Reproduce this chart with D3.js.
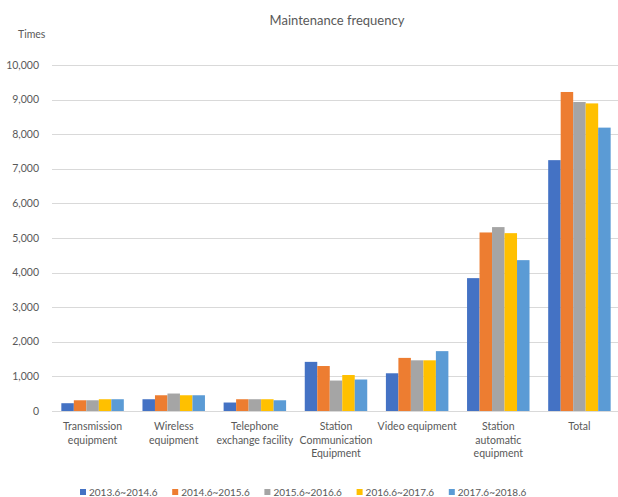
<!DOCTYPE html>
<html>
<head>
  <script src="https://d3js.org/d3.v7.min.js"></script>
  <style>
    body {
  margin: 0;
  background-color: #ffffff;
}

svg {
  display: block;
  font-family: 'Lato', 'Liberation Sans', sans-serif;
}

.grid line {
  stroke: #d9d9d9;
  stroke-width: 1px;
}

.label {
  fill: #595959;
}
  </style>
</head>
<body>

<script>
// Categories (line breaks follow the wrapping in the picture)
const categories = [
  "Transmission\nequipment",
  "Wireless\nequipment",
  "Telephone\nexchange facility",
  "Station\nCommunication\nEquipment",
  "Video equipment",
  "Station\nautomatic\nequipment",
  "Total"
];

const seriesNames = ["2013.6~2014.6", "2014.6~2015.6", "2015.6~2016.6", "2016.6~2017.6", "2017.6~2018.6"];

// One array per period, in category order
const s2013 = [225, 340, 245, 1420, 1090, 3840, 7250];
const s2014 = [310, 455, 340, 1300, 1535, 5160, 9220];
const s2015 = [310, 505, 340, 880, 1465, 5315, 8930];
const s2016 = [340, 455, 340, 1040, 1465, 5140, 8890];
const s2017 = [340, 455, 310, 910, 1730, 4360, 8190];

const yTicks = [0, 1000, 2000, 3000, 4000, 5000, 6000, 7000, 8000, 9000, 10000];

const colors = ["#4472C4", "#ED7D31", "#A5A5A5", "#FFC000", "#5B9BD5"];

const series = [s2013, s2014, s2015, s2016, s2017];

const width = 618;
const height = 497;
const margin = { top: 65, left: 52, right: -2, bottom: 86 };

const svg = d3.select("body")
  .append("svg")
  .attr("width", width)
  .attr("height", height);

const x = d3.scaleBand()
  .domain(d3.range(categories.length))
  .range([margin.left, width - margin.right])
  .paddingInner(0.23)
  .paddingOuter(0.115);

const xInner = d3.scaleBand()
  .domain(d3.range(series.length))
  .range([0, x.bandwidth()]);

const y = d3.scaleLinear()
  .domain([0, 10000])
  .range([height - margin.bottom, margin.top]);

// Gridlines
svg.append("g")
  .attr("class", "grid")
  .selectAll("line")
  .data(yTicks)
  .enter()
  .append("line")
  .attr("x1", margin.left)
  .attr("x2", width)
  .attr("y1", d => Math.round(y(d)) + 0.5)
  .attr("y2", d => Math.round(y(d)) + 0.5);

// Y tick labels
svg.append("g")
  .selectAll("text")
  .data(yTicks)
  .enter()
  .append("text")
  .attr("class", "label")
  .attr("x", 39)
  .attr("y", d => y(d))
  .attr("dy", "0.35em")
  .attr("text-anchor", "end")
  .attr("font-size", "10.5px")
  .text(d => d3.format(",")(d));

// Bars
const groups = svg.append("g")
  .selectAll("g")
  .data(categories)
  .enter()
  .append("g")
  .attr("transform", (d, i) => `translate(${x(i)},0)`);

groups.selectAll("rect")
  .data((d, i) => series.map((s, k) => ({ k: k, v: s[i] })))
  .enter()
  .append("rect")
  .attr("x", d => xInner(d.k))
  .attr("width", xInner.bandwidth())
  .attr("y", d => y(d.v))
  .attr("height", d => y(0) - y(d.v))
  .attr("fill", d => colors[d.k]);

// Category labels
const catLabels = svg.append("g")
  .selectAll("text")
  .data(categories)
  .enter()
  .append("text")
  .attr("class", "label")
  .attr("text-anchor", "middle")
  .attr("font-size", "10.5px")
  .attr("transform", (d, i) => `translate(${x(i) + x.bandwidth() / 2},430)`);

catLabels.selectAll("tspan")
  .data(d => d.split("\n"))
  .enter()
  .append("tspan")
  .attr("x", 0)
  .attr("y", (d, i) => i * 13.7)
  .text(d => d);

// Title and axis unit
svg.append("text")
  .attr("class", "label")
  .attr("x", 337)
  .attr("y", 25)
  .attr("text-anchor", "middle")
  .attr("font-size", "13px")
  .text("Maintenance frequency");

svg.append("text")
  .attr("class", "label")
  .attr("x", 18)
  .attr("y", 38)
  .attr("font-size", "10.5px")
  .text("Times");

// Legend
const legend = svg.append("g")
  .selectAll("g")
  .data(seriesNames)
  .enter()
  .append("g")
  .attr("transform", (d, i) => `translate(${80 + i * 92.2},492)`);

legend.append("rect")
  .attr("x", 0)
  .attr("y", -3)
  .attr("width", 6)
  .attr("height", 6)
  .attr("fill", (d, i) => colors[i]);

legend.append("text")
  .attr("class", "label")
  .attr("x", 9)
  .attr("dy", "0.35em")
  .attr("font-size", "10px")
  .text(d => d);
</script>
</body>
</html>
